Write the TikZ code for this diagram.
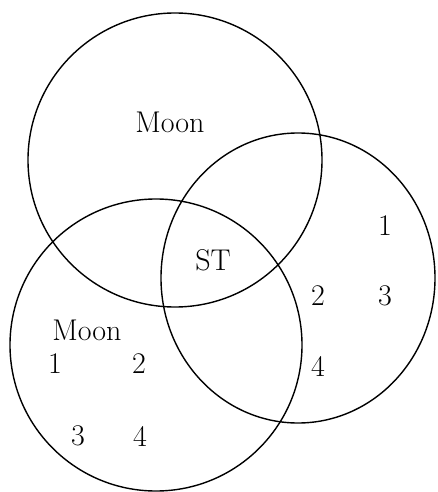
\documentclass[tikz,border=0pt]{standalone}
\usepackage{tikz}
\usetikzlibrary{shapes.geometric}

\begin{document}
\begin{tikzpicture}[
  x=1pt, y=-1pt,
  set/.style={draw=black, line width=1.4pt, inner sep=0pt, outer sep=0pt},
  lbl/.style={inner sep=0pt, font=\fontsize{30}{36}\selectfont},
]
  \useasboundingbox (0,0) rectangle (438,492);

  % the three sets
  \node[set, circle, minimum size=294pt] (topset) at (175,160) {};
  \node[set, ellipse, minimum width=274pt, minimum height=290pt] (rightset) at (298,278) {};
  \node[set, circle, minimum size=292pt] (leftset) at (156,345) {};

  % labels
  \node[lbl] (moontop) at (170,122) {Moon};
  \node[lbl] (st) at (213,260) {ST};

  \node[lbl] (rone) at (385,226) {1};
  \node[lbl] (rtwo) at (318,296) {2};
  \node[lbl] (rthree) at (385,296) {3};
  \node[lbl] (rfour) at (318,366) {4};

  \node[lbl] (moonleft) at (87,330) {Moon};
  \node[lbl] (lone) at (55,364) {1};
  \node[lbl] (ltwo) at (139,364) {2};
  \node[lbl] (lthree) at (78,436) {3};
  \node[lbl] (lfour) at (140,436) {4};
\end{tikzpicture}
\end{document}
